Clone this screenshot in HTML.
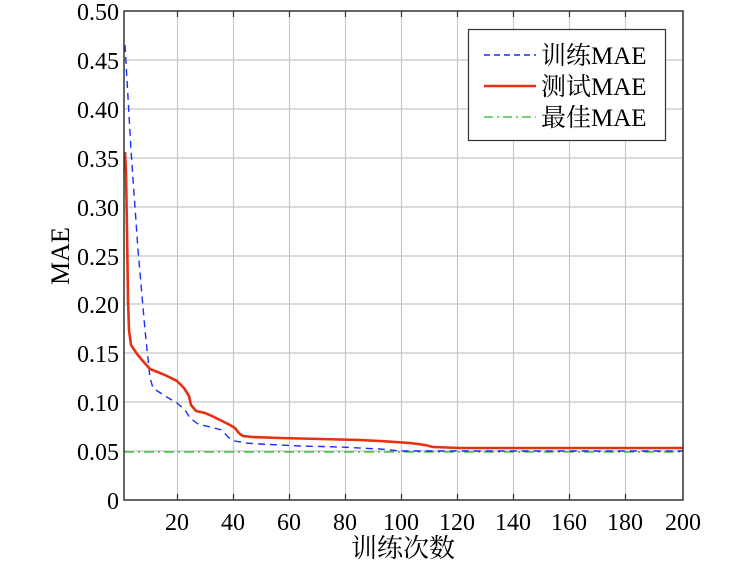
<!DOCTYPE html>
<html><head><meta charset="utf-8"><style>
html,body{margin:0;padding:0;background:#fff;}
svg{display:block;}
text{font-family:"Liberation Serif","Noto Serif CJK SC",serif;fill:#000;}
</style></head><body>
<svg width="750" height="562" viewBox="0 0 750 562">
<rect width="750" height="562" fill="#fff"/>
<g stroke="#c8c8c8" stroke-width="1.2">
<line x1="177.5" y1="11" x2="177.5" y2="500"/><line x1="233.5" y1="11" x2="233.5" y2="500"/>
<line x1="289.5" y1="11" x2="289.5" y2="500"/><line x1="345.5" y1="11" x2="345.5" y2="500"/>
<line x1="401.5" y1="11" x2="401.5" y2="500"/><line x1="457.5" y1="11" x2="457.5" y2="500"/>
<line x1="513.5" y1="11" x2="513.5" y2="500"/><line x1="569.5" y1="11" x2="569.5" y2="500"/>
<line x1="625.5" y1="11" x2="625.5" y2="500"/>
<line x1="124" y1="60" x2="683" y2="60"/><line x1="124" y1="109" x2="683" y2="109"/>
<line x1="124" y1="158" x2="683" y2="158"/><line x1="124" y1="207" x2="683" y2="207"/>
<line x1="124" y1="256" x2="683" y2="256"/><line x1="124" y1="304" x2="683" y2="304"/>
<line x1="124" y1="353" x2="683" y2="353"/><line x1="124" y1="402" x2="683" y2="402"/>
<line x1="124" y1="451" x2="683" y2="451"/>
</g>
<line x1="124" y1="452" x2="683" y2="452" stroke="#22bb22" stroke-width="1.3" stroke-dasharray="10,4,2,4"/>
<polyline fill="none" stroke="#1a2cff" stroke-width="1.4" stroke-dasharray="7,5" points="125,45 131,150 138,250 145,330 150,378 153,388 165,396 177,403 185,410 190,418 198,424 210,427 222,430 228,437 235,441 245,443 260,444 300,446 340,447 380,449 400,451 683,451"/>
<polyline fill="none" stroke="#e83010" stroke-width="2.6" points="125,152 126,172 127,230 128,300 129,330 131,345 137,354 142,360 150,369 165,375 177,381 184,388 189,396 191,405 196,411 205,413 212,416 216,418 224,422 230,425 235,428 238,432 240,434 243,436 252,437 280,438 320,439 360,440 380,441 410,443 425,445 433,447 460,448 683,448"/>
<rect x="124" y="11" width="559" height="489" fill="none" stroke="#333" stroke-width="1.5"/>
<g stroke="#333" stroke-width="1.2">
<line x1="177.5" y1="500" x2="177.5" y2="494"/><line x1="233.5" y1="500" x2="233.5" y2="494"/>
<line x1="289.5" y1="500" x2="289.5" y2="494"/><line x1="345.5" y1="500" x2="345.5" y2="494"/>
<line x1="401.5" y1="500" x2="401.5" y2="494"/><line x1="457.5" y1="500" x2="457.5" y2="494"/>
<line x1="513.5" y1="500" x2="513.5" y2="494"/><line x1="569.5" y1="500" x2="569.5" y2="494"/>
<line x1="625.5" y1="500" x2="625.5" y2="494"/>
<line x1="177.5" y1="11" x2="177.5" y2="17"/><line x1="233.5" y1="11" x2="233.5" y2="17"/>
<line x1="289.5" y1="11" x2="289.5" y2="17"/><line x1="345.5" y1="11" x2="345.5" y2="17"/>
<line x1="401.5" y1="11" x2="401.5" y2="17"/><line x1="457.5" y1="11" x2="457.5" y2="17"/>
<line x1="513.5" y1="11" x2="513.5" y2="17"/><line x1="569.5" y1="11" x2="569.5" y2="17"/>
<line x1="625.5" y1="11" x2="625.5" y2="17"/>
</g>
<g font-size="24" text-anchor="end">
<text x="119" y="20">0.50</text><text x="119" y="69">0.45</text><text x="119" y="118">0.40</text>
<text x="119" y="167">0.35</text><text x="119" y="216">0.30</text><text x="119" y="265">0.25</text>
<text x="119" y="313">0.20</text><text x="119" y="362">0.15</text><text x="119" y="411">0.10</text>
<text x="119" y="460">0.05</text><text x="119" y="509">0</text>
</g>
<g font-size="24" text-anchor="middle">
<text x="177" y="530">20</text><text x="233" y="530">40</text><text x="289" y="530">60</text>
<text x="345" y="530">80</text><text x="401" y="530">100</text><text x="457" y="530">120</text>
<text x="513" y="530">140</text><text x="569" y="530">160</text><text x="625" y="530">180</text>
<text x="683" y="530">200</text>
</g>
<text x="403" y="557" font-size="26" text-anchor="middle">训练次数</text>
<text transform="translate(69,256) rotate(-90)" font-size="26" text-anchor="middle">MAE</text>
<rect x="468.5" y="29.5" width="197" height="111" fill="#fff" stroke="#333" stroke-width="1.2"/>
<line x1="484" y1="55" x2="536" y2="55" stroke="#1a2cff" stroke-width="1.4" stroke-dasharray="6,4"/>
<line x1="484" y1="86" x2="536" y2="86" stroke="#e83010" stroke-width="2.6"/>
<line x1="484" y1="117" x2="536" y2="117" stroke="#22bb22" stroke-width="1.3" stroke-dasharray="9,4,2,4"/>
<g font-size="25">
<text x="541" y="64">训练MAE</text>
<text x="541" y="95">测试MAE</text>
<text x="541" y="126">最佳MAE</text>
</g>
</svg>
</body></html>
